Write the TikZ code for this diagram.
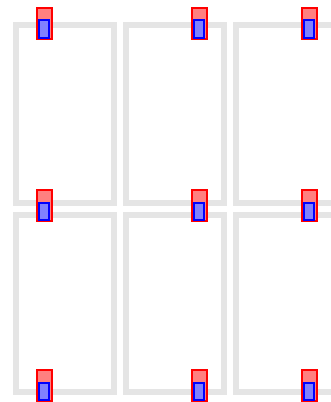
\documentclass[tikz,border=0pt]{standalone}
\usepackage{tikz}
\usetikzlibrary{positioning,calc}
\definecolor{frame}{HTML}{E5E5E5}
\definecolor{pinred}{HTML}{FF0000}
\definecolor{pinblue}{HTML}{0000FF}
\tikzset{cell/.style={draw=frame,line width=6pt,line join=miter},
  pinouter/.style={draw=pinred,fill=pinred!50,line width=2pt},
  pininner/.style={draw=pinblue,fill=pinblue!50,line width=2pt}}
\newcommand{\pinmark}[2]{%
\begin{scope}[shift={(#1,#2)}]
\filldraw[pinouter] (-7.5,-15.5) rectangle (7.5,15.5);
\filldraw[pininner] (-5.2,-3) rectangle (4.6,14.5);
\end{scope}}

\begin{document}
\begin{tikzpicture}[x=1pt,y=-1pt]
\useasboundingbox (0,0) rectangle (331,402);
\clip (0,0) rectangle (331,402);
\foreach \cx in {16,126,236}{
  \draw[cell] (\cx,25) rectangle ++(98,178);
  \draw[cell] (\cx,215) rectangle ++(98,177);}
\foreach \px in {44.5,199.5,309}{
  \foreach \py in {23.2,205.8,385.5}{\pinmark{\px}{\py}}}
\end{tikzpicture}
\end{document}
